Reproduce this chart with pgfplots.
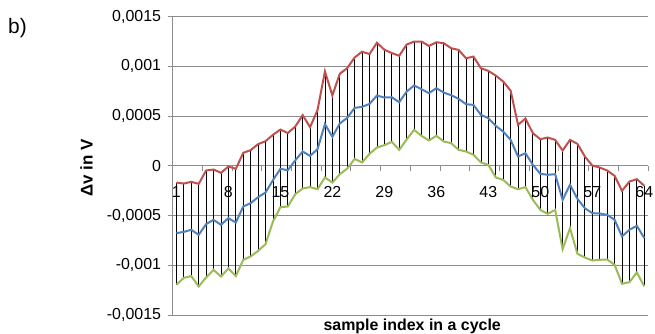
\documentclass[border=0pt]{standalone}
\usepackage{fontspec}
\setmainfont{Liberation Sans}
\usepackage{pgfplots}
\usepackage{pgfplotstable}
\pgfplotsset{compat=1.18}
\definecolor{cred}{HTML}{C0504D}
\definecolor{cblue}{HTML}{4F81BD}
\definecolor{cgreen}{HTML}{9BBB59}
\definecolor{gridgray}{HTML}{8C8C8C}
\pgfplotstableread{
x r b g
1 -0.000168 -0.000677 -0.001196
2 -0.000178 -0.000664 -0.001126
3 -0.000161 -0.000643 -0.001109
4 -0.000181 -0.000694 -0.001213
5 -0.000047 -0.000586 -0.001123
6 -0.000037 -0.000543 -0.001046
7 -0.000070 -0.000593 -0.001113
8 -0.000007 -0.000526 -0.001032
9 -0.000030 -0.000570 -0.001109
10 0.000131 -0.000409 -0.000945
11 0.000158 -0.000375 -0.000911
12 0.000218 -0.000315 -0.000855
13 0.000248 -0.000268 -0.000788
14 0.000312 -0.000144 -0.000560
15 0.000365 -0.000030 -0.000416
16 0.000330 -0.000044 -0.000409
17 0.000395 0.000055 -0.000285
18 0.000510 0.000144 -0.000228
19 0.000389 0.000100 -0.000214
20 0.000561 0.000168 -0.000235
21 0.000950 0.000420 -0.000117
22 0.000708 0.000292 -0.000168
23 0.000926 0.000426 -0.000084
24 0.000983 0.000483 -0.000027
25 0.001090 0.000583 0.000070
26 0.001148 0.000593 0.000034
27 0.001124 0.000623 0.000121
28 0.001238 0.000707 0.000184
29 0.001168 0.000687 0.000208
30 0.001134 0.000690 0.000241
31 0.001107 0.000640 0.000161
32 0.001220 0.000747 0.000265
33 0.001250 0.000808 0.000362
34 0.001250 0.000771 0.000302
35 0.001206 0.000731 0.000255
36 0.001243 0.000781 0.000302
37 0.001233 0.000737 0.000245
38 0.001183 0.000710 0.000228
39 0.001166 0.000674 0.000161
40 0.001082 0.000620 0.000144
41 0.001099 0.000613 0.000111
42 0.000982 0.000513 0.000034
43 0.000955 0.000479 0.000010
44 0.000908 0.000402 -0.000117
45 0.000848 0.000345 -0.000141
46 0.000757 0.000261 -0.000208
47 0.000412 0.000094 -0.000235
48 0.000476 0.000127 -0.000214
49 0.000328 0.000010 -0.000342
50 0.000268 -0.000080 -0.000443
51 0.000285 -0.000090 -0.000483
52 0.000261 -0.000084 -0.000443
53 0.000154 -0.000342 -0.000838
54 0.000261 -0.000191 -0.000627
55 0.000221 -0.000332 -0.000885
56 0.000094 -0.000426 -0.000922
57 0.000003 -0.000476 -0.000952
58 -0.000017 -0.000479 -0.000945
59 -0.000047 -0.000493 -0.000942
60 -0.000100 -0.000543 -0.000995
61 -0.000251 -0.000710 -0.001186
62 -0.000158 -0.000643 -0.001170
63 -0.000134 -0.000603 -0.001072
64 -0.000200 -0.000727 -0.001213
}\data
\begin{document}
\begin{tikzpicture}[x=1bp,y=1bp]
\begin{axis}[
  at={(172.7bp,19bp)}, anchor=south west,
  scale only axis, width=475.3bp, height=298.3bp,
  xmin=0.5, xmax=64.5, ymin=-0.0015, ymax=0.0015,
  axis x line=middle, axis y line=left,
  axis line style={-, draw=gridgray, line width=1bp},
  hide obscured x ticks=false, hide obscured y ticks=false,
  scaled y ticks=false, scaled x ticks=false,
  ytick={-0.0015,-0.001,-0.0005,0,0.0005,0.001,0.0015},
  yticklabels={{-0,0015},{-0,001},{-0,0005},0,{0,0005},{0,001},{0,0015}},
  ymajorgrids, grid style={draw=gridgray, line width=1bp},
  tick align=outside, major tick length=5bp,
  tick style={draw=gridgray, line width=1bp},
  xtick={4.5,8.5,...,64.5}, xticklabels={},
  extra x ticks={1,8,15,22,29,36,43,50,57,64},
  extra x tick labels={1,8,15,22,29,36,43,50,57,64},
  extra x tick style={major tick length=0pt, grid=none},
  tick label style={font=\fontsize{16}{18}\selectfont},
  yticklabel style={anchor=east, inner sep=0pt, xshift=-6.5bp},
  xticklabel style={anchor=north, inner sep=0pt, yshift=-20.7bp},
  clip=false,
]
\addplot[draw=none, mark=none, forget plot,
  error bars/.cd, y dir=minus, y explicit, error mark=none,
  error bar style={draw=black, solid, line width=0.8bp}]
  table[x=x, y=r, y error expr=\thisrow{r}-\thisrow{g}] {\data};
\addplot[cgreen, line width=2bp, mark=none] table[x=x, y=g] {\data};
\addplot[cblue, line width=2bp, mark=none] table[x=x, y=b] {\data};
\addplot[cred, line width=2bp, mark=none] table[x=x, y=r] {\data};
\end{axis}
\node[anchor=base west, inner sep=0pt, font=\fontsize{21}{24}\selectfont] at (8bp,300bp) {b)};
\node[anchor=base, inner sep=0pt, rotate=90, font=\bfseries\fontsize{17}{20}\selectfont] at (92.7bp,165.7bp) {Δv in V};
\node[anchor=base, inner sep=0pt, font=\bfseries\fontsize{16}{19}\selectfont] at (412.2bp,4bp) {sample index in a cycle};
\pgfresetboundingbox
\useasboundingbox (0bp,0bp) rectangle (655bp,334bp);
\end{tikzpicture}
\end{document}
